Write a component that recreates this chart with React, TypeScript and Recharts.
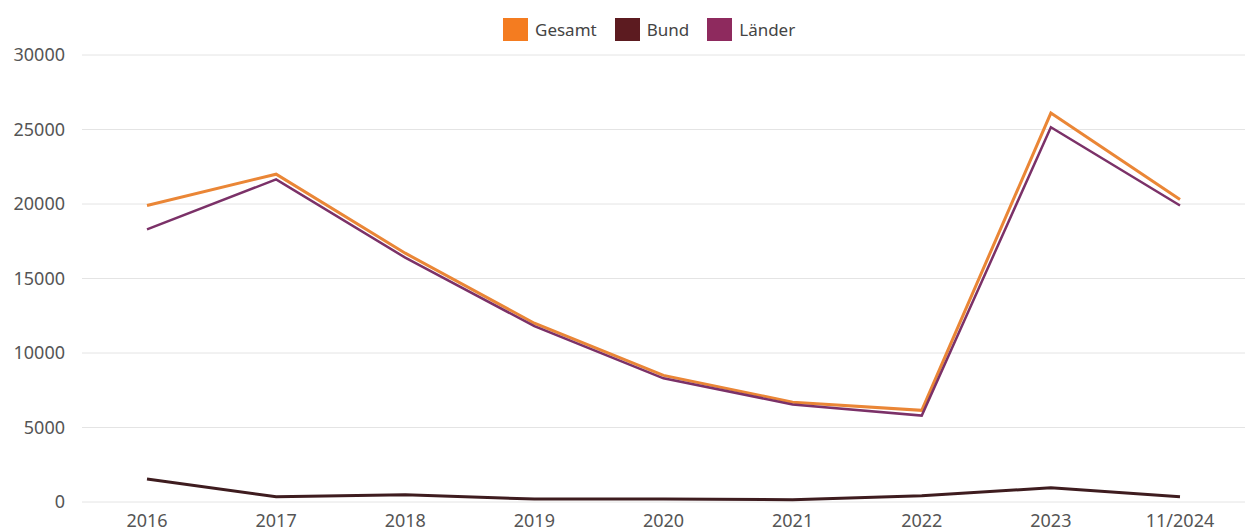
import React from "react";
import { LineChart, Line, XAxis, YAxis, CartesianGrid, Legend } from "recharts";

const categories = ["2016", "2017", "2018", "2019", "2020", "2021", "2022", "2023", "11/2024"];
const gesamt = [19900, 22000, 16700, 12000, 8500, 6700, 6150, 26100, 20300];
const bund = [1550, 350, 480, 200, 200, 150, 420, 950, 350];
const laender = [18300, 21650, 16400, 11800, 8300, 6550, 5800, 25150, 19900];
const yTicks = [0, 5000, 10000, 15000, 20000, 25000, 30000];

const seriesNames = ["Gesamt", "Bund", "Länder"];
const lineColors = ["#ea8636", "#3e1c1f", "#7b3168"];
const legendColors = ["#f47c20", "#5c1b20", "#8e2a5e"];

const data = categories.map((c, i) => ({
  name: c,
  Gesamt: gesamt[i],
  Bund: bund[i],
  Länder: laender[i],
}));

const FONT = "'Noto Sans', 'Open Sans', sans-serif";

const LegendContent = () => (
  <div style={{ display: "flex", alignItems: "center", fontFamily: FONT, fontSize: 17, color: "#444" }}>
    {seriesNames.map((n, i) => (
      <div key={n} style={{ display: "flex", alignItems: "center", marginRight: 18 }}>
        <span style={{ display: "inline-block", width: 25, height: 23, background: legendColors[i], marginRight: 7 }} />
        <span>{n}</span>
      </div>
    ))}
  </div>
);

export default function App() {
  return (
    <div style={{ position: "absolute", left: 0, top: 0, width: 1245, height: 531, background: "#fff", overflow: "hidden" }}>
      <LineChart width={1245} height={531} data={data} margin={{ top: 55, right: 0, bottom: 0, left: 0 }}>
        <CartesianGrid vertical={false} stroke="#e4e4e4" strokeWidth={1} />
        <XAxis
          dataKey="name"
          axisLine={false}
          tickLine={false}
          tickSize={0}
          tickMargin={12}
          height={29}
          padding={{ left: 65, right: 65 }}
          interval={0}
          tick={{ fill: "#555", fontSize: 18, fontFamily: FONT }}
        />
        <YAxis
          width={82}
          domain={[0, 30000]}
          ticks={yTicks}
          axisLine={false}
          tickLine={false}
          tickSize={0}
          tickMargin={17}
          interval={0}
          tick={{ fill: "#555", fontSize: 18, fontFamily: FONT }}
        />
        <Legend
          verticalAlign="middle"
          align="center"
          content={<LegendContent />}
          wrapperStyle={{ top: 18, left: 503, width: 360, height: 24 }}
        />
        <Line type="linear" dataKey="Gesamt" stroke={lineColors[0]} strokeWidth={3} dot={false} isAnimationActive={false} />
        <Line type="linear" dataKey="Bund" stroke={lineColors[1]} strokeWidth={3} dot={false} isAnimationActive={false} />
        <Line type="linear" dataKey="Länder" stroke={lineColors[2]} strokeWidth={2.5} dot={false} isAnimationActive={false} />
      </LineChart>
    </div>
  );
}
